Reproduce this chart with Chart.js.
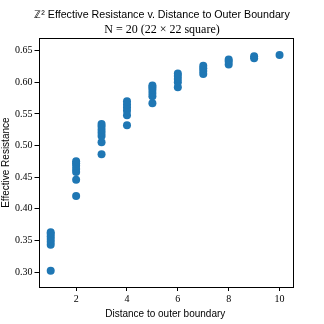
<!DOCTYPE html>
<html>
<head>
<meta charset="utf-8">
<script src="https://cdn.jsdelivr.net/npm/chart.js@4"></script>
<style>
  html, body { margin: 0; padding: 0; background: #fff; }
  #wrap { width: 324px; height: 324px; }
</style>
</head>
<body>
<div id="wrap"><canvas id="chart1"></canvas></div>
<script>
// distance to outer boundary and the resistances measured at each distance
const distances = [1, 2, 3, 4, 5, 6, 7, 8, 9, 10];
const res1 = [0.302, 0.343, 0.348, 0.352, 0.356, 0.360, 0.363];
const res2 = [0.420, 0.446, 0.458, 0.463, 0.468, 0.472, 0.475];
const res3 = [0.486, 0.505, 0.515, 0.520, 0.525, 0.530, 0.534];
const res4 = [0.532, 0.548, 0.555, 0.560, 0.565, 0.570];
const res5 = [0.567, 0.578, 0.583, 0.588, 0.592, 0.595];
const res6 = [0.592, 0.600, 0.605, 0.610, 0.614];
const res7 = [0.613, 0.618, 0.622, 0.626];
const res8 = [0.628, 0.633, 0.636];
const res9 = [0.638, 0.641];
const res10 = [0.643];
const resistance = [res1, res2, res3, res4, res5, res6, res7, res8, res9, res10];

const xTicks = [2, 4, 6, 8, 10];
const yTicks = [0.30, 0.35, 0.40, 0.45, 0.50, 0.55, 0.60, 0.65];

const points = [];
distances.forEach((d, i) => {
  resistance[i].forEach(r => points.push({ x: d, y: r }));
});

// box round the plot, like the matplotlib spines
const frame = {
  id: 'frame',
  afterDraw(chart) {
    const a = chart.chartArea, c = chart.ctx;
    c.save();
    c.strokeStyle = '#000';
    c.lineWidth = 1;
    c.strokeRect(Math.round(a.left) + 0.5, Math.round(a.top) + 0.5,
      Math.round(a.right - a.left), Math.round(a.bottom - a.top));
    c.restore();
  }
};

const tickFont = { family: '"Liberation Serif", serif', size: 10 };
const labelFont = { family: '"Liberation Sans", sans-serif', size: 10 };

new Chart(document.getElementById('chart1'), {
  type: 'scatter',
  data: {
    datasets: [{
      data: points,
      backgroundColor: '#1f77b4',
      borderColor: '#1f77b4',
      borderWidth: 0,
      pointRadius: 4,
      pointHoverRadius: 4
    }]
  },
  options: {
    responsive: true,
    maintainAspectRatio: false,
    animation: false,
    layout: { padding: { left: 0, right: 0, top: 6, bottom: 4 } },
    plugins: {
      legend: { display: false },
      tooltip: { enabled: false },
      title: {
        display: true,
        text: 'ℤ² Effective Resistance v. Distance to Outer Boundary',
        color: '#000',
        font: { family: '"Liberation Sans", sans-serif', size: 10.7, weight: 'normal' },
        padding: { top: 3, bottom: 1 }
      },
      subtitle: {
        display: true,
        text: 'N = 20 (22 × 22 square)',
        color: '#000',
        font: { family: '"Liberation Serif", serif', size: 12 },
        padding: { top: 0, bottom: 1 }
      }
    },
    scales: {
      x: {
        type: 'linear',
        min: 0.52,
        max: 10.49,
        afterBuildTicks: axis => { axis.ticks = xTicks.map(v => ({ value: v })); },
        ticks: { color: '#000', font: tickFont, padding: 2, maxRotation: 0,
          callback: v => String(v) },
        grid: { drawOnChartArea: false, tickLength: 4, color: '#000' },
        border: { display: false },
        title: { display: true, text: 'Distance to outer boundary', color: '#000',
          font: labelFont, padding: { top: 1, bottom: 0 } }
      },
      y: {
        min: 0.2763,
        max: 0.6696,
        afterBuildTicks: axis => { axis.ticks = yTicks.map(v => ({ value: v })); },
        ticks: { color: '#000', font: tickFont, padding: 2,
          callback: v => v.toFixed(2) },
        grid: { drawOnChartArea: false, tickLength: 4, color: '#000' },
        border: { display: false },
        title: { display: true, text: 'Effective Resistance', color: '#000',
          font: labelFont, padding: { top: 0, bottom: 1 } }
      },
      // empty right margin so the title stays centred on the whole figure
      pad: {
        position: 'right',
        display: true,
        ticks: { display: false },
        grid: { display: false },
        border: { display: false },
        afterFit: s => { s.width = 32; }
      }
    }
  },
  plugins: [frame]
});
</script>
</body>
</html>
